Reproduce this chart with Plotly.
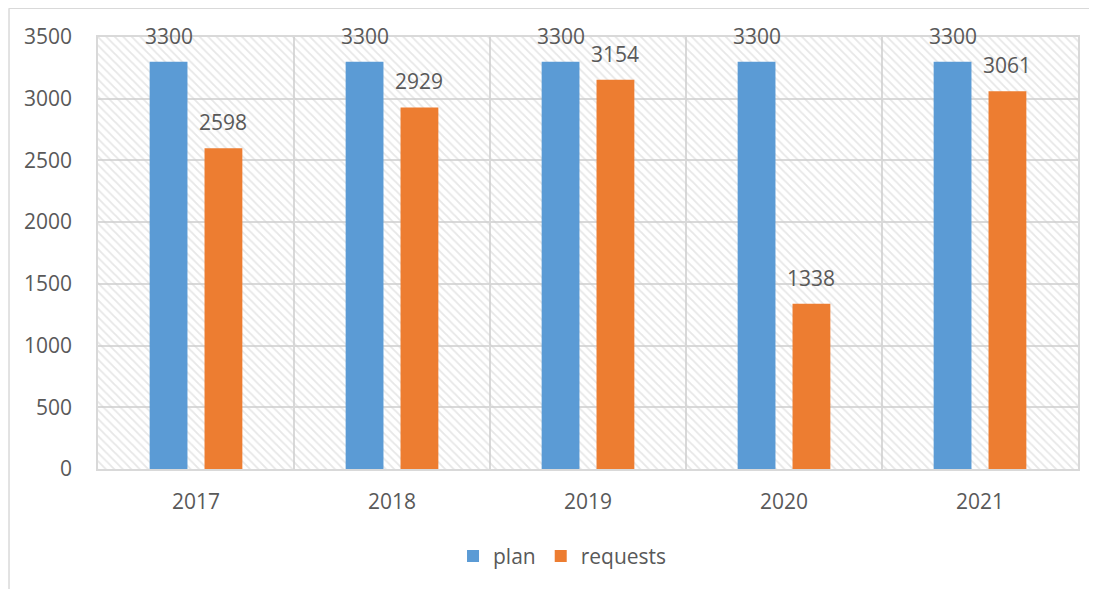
import plotly.graph_objects as go

years = ["2017", "2018", "2019", "2020", "2021"]
plan = [3300, 3300, 3300, 3300, 3300]
requests = [2598, 2929, 3154, 1338, 3061]

Y_MAX = 3500
pos = list(range(len(years)))
FONT = "Open Sans"
TXT = "#595959"
GRID = "#d9d9d9"

BAR_W = 0.193
HALF_SEP = 0.14  # distance from category centre to each bar centre (axis units)

fig = go.Figure()

# hatched plot-area background (drawn first, beneath the bars)
n = len(years)
fig.add_trace(go.Bar(
    x=[(n - 1) / 2], y=[Y_MAX], width=[n],
    marker=dict(color="rgba(255,255,255,0)", line=dict(width=0),
                pattern=dict(shape="\\", fgcolor="#cfcfcf", bgcolor="rgba(255,255,255,0)",
                             size=6, solidity=0.3)),
    hoverinfo="skip", showlegend=False))

fig.add_trace(go.Bar(x=pos, y=plan, name="plan", width=BAR_W, offset=-HALF_SEP - BAR_W / 2,
                     marker=dict(color="#5b9bd5", line=dict(width=0))))
fig.add_trace(go.Bar(x=pos, y=requests, name="requests", width=BAR_W, offset=HALF_SEP - BAR_W / 2,
                     marker=dict(color="#ed7d31", line=dict(width=0))))

annotations = []
for i in pos:
    for vals, shift in ((plan, -HALF_SEP), (requests, HALF_SEP)):
        annotations.append(dict(x=i + shift, y=vals[i], text=str(vals[i]), xref="x", yref="y",
                                showarrow=False, yshift=26,
                                font=dict(family=FONT, size=21, color=TXT)))

fig.update_layout(
    width=1089, height=581,
    margin=dict(l=90, r=19, t=29, b=117),
    paper_bgcolor="white", plot_bgcolor="white",
    barmode="overlay",
    font=dict(family=FONT, size=21, color=TXT),
    legend=dict(orientation="h", x=0.474, xanchor="center", y=-0.202, yanchor="middle",
                font=dict(family=FONT, size=21, color=TXT), itemwidth=30,
                traceorder="normal"),
    annotations=annotations,
    shapes=[
        dict(type="line", xref="paper", yref="paper", x0=-0.0908, x1=-0.0908, y0=-0.3, y1=1.0667,
             line=dict(color=GRID, width=1.5)),
        dict(type="line", xref="paper", yref="paper", x0=-0.0908, x1=1.05, y0=1.0667, y1=1.0667,
             line=dict(color=GRID, width=1.5)),
    ],
)

fig.update_xaxes(
    range=[-0.5, n - 0.5], tickmode="array", tickvals=pos, ticktext=years,
    showgrid=False, zeroline=False, showline=True, linecolor=GRID, linewidth=1.5, mirror=True,
    ticks="", ticklabelstandoff=13,
    minor=dict(tickmode="array", tickvals=[p + 0.5 for p in pos[:-1]], showgrid=True,
               gridcolor=GRID, gridwidth=1.5, ticks=""),
)
fig.update_yaxes(
    range=[0, Y_MAX], tickmode="linear", tick0=0, dtick=500,
    showgrid=True, gridcolor=GRID, gridwidth=1.5, zeroline=False,
    showline=True, linecolor=GRID, linewidth=1.5, mirror=True,
    ticks="", ticklabelstandoff=20,
)

fig.write_html("out.html")
